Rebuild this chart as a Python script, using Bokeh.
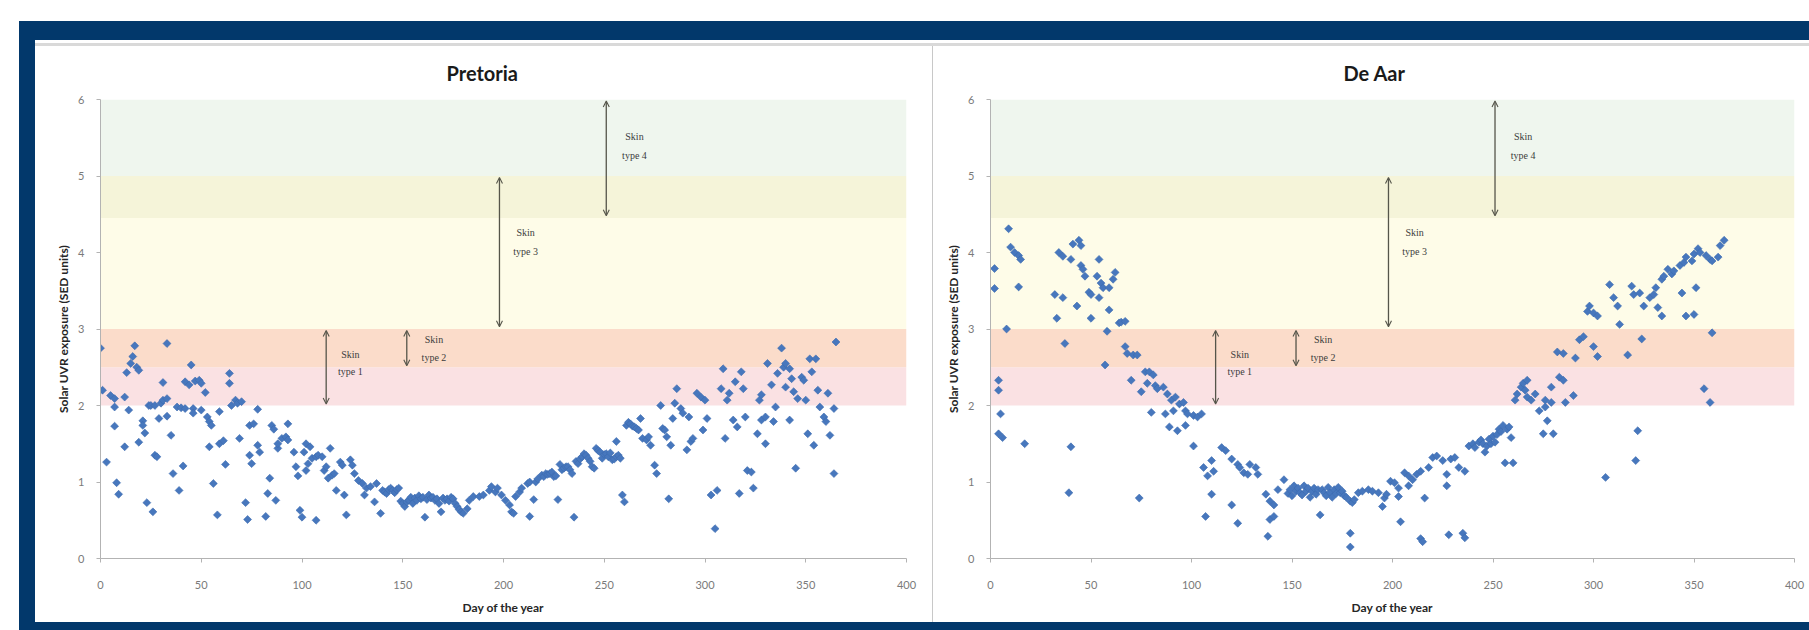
import numpy as np
from bokeh.plotting import figure
from bokeh.models import Arrow, OpenHead, Title, Spacer, Row, Column, FixedTicker
from bokeh.core.properties import value
from bokeh.embed import file_html
from bokeh.resources import INLINE

# ---------------- data ----------------
pretoria_day = [
    0, 1, 3, 5, 7, 7, 7, 8, 9, 12,
    12, 13, 14, 15, 16, 17, 18, 19, 19, 21,
    21, 22, 23, 24, 25, 26, 27, 27, 28, 29,
    30, 31, 31, 33, 33, 33, 35, 36, 38, 39,
    40, 41, 42, 42, 44, 45, 46, 46, 47, 49,
    50, 50, 52, 53, 54, 54, 55, 56, 58, 59,
    59, 61, 62, 64, 64, 65, 67, 68, 69, 70,
    72, 73, 74, 74, 75, 76, 78, 78, 79, 82,
    83, 84, 85, 86, 87, 88, 88, 90, 92, 93,
    93, 96, 97, 98, 99, 100, 101, 102, 102, 103,
    104, 105, 107, 107, 108, 110, 111, 112, 113, 114,
    115, 116, 117, 119, 120, 121, 122, 124, 125, 126,
    128, 130, 131, 132, 134, 136, 137, 139, 140, 141,
    142, 143, 144, 145, 146, 147, 148, 149, 150, 151,
    152, 153, 154, 155, 156, 157, 158, 159, 160, 161,
    162, 163, 164, 165, 166, 167, 168, 169, 170, 171,
    172, 173, 174, 175, 176, 177, 178, 179, 180, 182,
    183, 185, 188, 190, 193, 194, 196, 197, 199, 201,
    203, 204, 205, 206, 208, 209, 212, 213, 213, 215,
    216, 217, 219, 220, 221, 222, 223, 224, 225, 226,
    227, 228, 229, 230, 231, 232, 233, 234, 235, 236,
    237, 238, 239, 240, 241, 242, 243, 244, 245, 246,
    247, 248, 249, 250, 251, 252, 253, 254, 255, 256,
    256, 257, 258, 259, 260, 261, 262, 263, 264, 265,
    266, 267, 268, 269, 271, 272, 273, 275, 276, 278,
    279, 280, 281, 282, 283, 284, 285, 286, 288, 289,
    291, 292, 293, 294, 296, 298, 299, 300, 301, 303,
    305, 306, 308, 309, 310, 311, 312, 314, 315, 316,
    317, 318, 319, 320, 321, 323, 324, 326, 327, 328,
    328, 330, 330, 331, 333, 334, 335, 336, 338, 339,
    340, 340, 342, 342, 343, 344, 345, 346, 348, 349,
    350, 351, 352, 353, 354, 355, 356, 357, 359, 360,
    361, 362, 364, 364, 365,
]
pretoria_sed = [
    2.75, 2.2, 1.26, 2.13, 2.09, 1.98, 1.73, 0.99, 0.84, 1.46,
    2.11, 2.43, 1.94, 2.55, 2.64, 2.78, 2.5, 2.46, 1.52, 1.8,
    1.74, 1.64, 0.73, 2.0, 2.0, 0.61, 2.0, 1.35, 1.33, 1.83,
    2.03, 2.07, 2.3, 2.09, 2.81, 1.86, 1.61, 1.11, 1.98, 0.89,
    1.97, 1.21, 1.96, 2.31, 2.27, 2.53, 1.96, 1.9, 2.32, 2.33,
    2.29, 1.94, 2.17, 1.85, 1.79, 1.46, 1.74, 0.98, 0.57, 1.92,
    1.5, 1.54, 1.23, 2.29, 2.42, 2.0, 2.07, 2.03, 1.57, 2.05,
    0.73, 0.51, 1.35, 1.74, 1.24, 1.76, 1.95, 1.48, 1.39, 0.55,
    0.85, 1.05, 1.74, 1.69, 0.76, 1.44, 1.5, 1.57, 1.59, 1.76,
    1.55, 1.39, 1.2, 1.08, 0.63, 0.54, 1.39, 1.5, 1.15, 1.24,
    1.46, 1.31, 1.33, 0.5, 1.35, 1.33, 1.15, 1.2, 1.05, 1.44,
    1.09, 1.11, 0.89, 1.26, 1.22, 0.83, 0.57, 1.29, 1.22, 1.11,
    1.02, 0.98, 0.83, 0.92, 0.94, 0.74, 0.98, 0.59, 0.89, 0.87,
    0.85, 0.9, 0.92, 0.89, 0.86, 0.9, 0.92, 0.75, 0.72, 0.68,
    0.74, 0.76, 0.8, 0.72, 0.79, 0.76, 0.82, 0.78, 0.8, 0.54,
    0.77, 0.83, 0.79, 0.8, 0.76, 0.78, 0.72, 0.61, 0.79, 0.76,
    0.78, 0.75, 0.8, 0.78, 0.72, 0.68, 0.64, 0.61, 0.59, 0.65,
    0.76, 0.81, 0.81, 0.83, 0.89, 0.94, 0.87, 0.92, 0.83, 0.76,
    0.7, 0.61, 0.59, 0.81, 0.87, 0.92, 0.98, 1.0, 0.55, 0.77,
    1.0, 1.04, 1.09, 1.07, 1.11, 1.1, 1.11, 1.13, 1.07, 1.08,
    0.77, 1.23, 1.16, 1.18, 1.2, 1.2, 1.16, 1.11, 0.54, 1.27,
    1.24, 1.3, 1.33, 1.37, 1.35, 1.31, 1.27, 1.2, 1.18, 1.44,
    1.41, 1.39, 1.31, 1.36, 1.37, 1.33, 1.38, 1.29, 1.3, 1.33,
    1.53, 1.35, 1.31, 0.83, 0.74, 1.74, 1.78, 1.76, 1.73, 1.72,
    1.7, 1.68, 1.83, 1.57, 1.55, 1.59, 1.48, 1.22, 1.11, 2.0,
    1.7, 1.68, 1.59, 0.78, 1.48, 1.83, 2.03, 2.22, 1.96, 1.9,
    1.42, 1.85, 1.53, 1.57, 2.16, 2.11, 1.68, 2.07, 1.83, 0.83,
    0.39, 0.89, 2.22, 2.48, 1.57, 2.07, 2.16, 1.81, 2.31, 1.72,
    0.85, 2.44, 2.22, 1.85, 1.15, 1.13, 0.92, 1.63, 2.07, 2.14,
    1.81, 1.85, 1.5, 2.55, 2.27, 1.79, 1.98, 2.42, 2.75, 2.5,
    2.55, 2.24, 2.48, 1.81, 2.35, 2.18, 1.18, 2.09, 2.37, 2.33,
    2.07, 1.63, 2.61, 2.44, 1.48, 2.61, 2.2, 1.98, 1.85, 1.79,
    2.16, 1.61, 1.96, 1.11, 2.83,
]

deaar_day = [
    2, 2, 4, 4, 4, 5, 6, 8, 9, 10,
    12, 14, 14, 15, 17, 32, 33, 34, 36, 36,
    37, 39, 40, 40, 41, 43, 44, 45, 45, 46,
    47, 49, 50, 50, 53, 54, 54, 55, 56, 57,
    58, 59, 59, 61, 62, 64, 65, 67, 67, 68,
    70, 71, 73, 74, 75, 77, 78, 79, 80, 81,
    82, 83, 86, 87, 88, 89, 90, 91, 92, 93,
    94, 96, 97, 97, 98, 101, 101, 103, 105, 106,
    107, 108, 110, 110, 111, 115, 117, 120, 120, 123,
    123, 124, 126, 128, 129, 132, 133, 137, 138, 139,
    139, 141, 141, 143, 146, 148, 149, 150, 151, 152,
    153, 154, 155, 156, 157, 158, 159, 160, 161, 162,
    163, 164, 165, 166, 167, 168, 169, 170, 171, 172,
    173, 174, 175, 176, 177, 179, 179, 179, 180, 181,
    183, 185, 188, 190, 193, 195, 196, 197, 199, 201,
    203, 203, 204, 206, 208, 208, 210, 212, 214, 214,
    215, 216, 218, 220, 222, 225, 227, 227, 228, 229,
    231, 233, 235, 236, 236, 238, 240, 241, 243, 244,
    245, 246, 247, 248, 249, 250, 251, 252, 253, 254,
    255, 256, 257, 258, 259, 260, 261, 262, 264, 265,
    266, 267, 267, 269, 271, 273, 275, 276, 276, 277,
    279, 279, 280, 282, 283, 285, 285, 286, 290, 291,
    293, 295, 297, 298, 300, 300, 302, 302, 306, 308,
    310, 312, 313, 317, 319, 320, 321, 322, 323, 324,
    325, 328, 330, 331, 332, 334, 334, 335, 337, 339,
    340, 343, 344, 345, 346, 346, 349, 350, 350, 351,
    352, 353, 355, 356, 358, 358, 359, 359, 362, 363,
    365,
]
deaar_sed = [
    3.79, 3.53, 2.33, 2.2, 1.63, 1.89, 1.58, 3.0, 4.31, 4.07,
    4.0, 3.96, 3.55, 3.91, 1.5, 3.45, 3.14, 4.0, 3.95, 3.41,
    2.81, 0.86, 1.46, 3.91, 4.11, 3.3, 4.16, 4.09, 3.83, 3.78,
    3.69, 3.48, 3.45, 3.14, 3.69, 3.91, 3.41, 3.6, 3.54, 2.53,
    2.97, 3.25, 3.54, 3.65, 3.74, 3.08, 3.09, 3.1, 2.77, 2.68,
    2.33, 2.66, 2.66, 0.79, 2.18, 2.44, 2.29, 2.44, 1.91, 2.4,
    2.26, 2.22, 2.24, 1.89, 2.15, 1.72, 2.07, 1.93, 2.11, 1.67,
    2.02, 2.04, 1.93, 1.74, 1.89, 1.87, 1.47, 1.85, 1.89, 1.19,
    0.55, 1.08, 1.28, 0.84, 1.14, 1.45, 1.41, 0.7, 1.3, 1.23,
    0.46, 1.19, 1.12, 1.1, 1.23, 1.19, 1.1, 0.84, 0.29, 0.75,
    0.51, 0.7, 0.55, 0.9, 1.03, 0.85, 0.9, 0.82, 0.95, 0.88,
    0.92, 0.86, 0.83, 0.95, 0.88, 0.92, 0.8, 0.88, 0.92, 0.84,
    0.9, 0.57, 0.9, 0.86, 0.82, 0.93, 0.86, 0.8, 0.9, 0.85,
    0.93, 0.86, 0.88, 0.82, 0.8, 0.75, 0.33, 0.15, 0.73, 0.77,
    0.86, 0.88, 0.9, 0.88, 0.86, 0.68, 0.79, 0.84, 1.01, 0.99,
    0.92, 0.81, 0.48, 1.12, 1.08, 0.95, 1.03, 1.1, 1.14, 0.26,
    0.22, 0.79, 1.19, 1.32, 1.34, 1.28, 1.1, 0.95, 0.31, 1.3,
    1.32, 1.19, 0.33, 0.27, 1.14, 1.47, 1.5, 1.45, 1.52, 1.55,
    1.5, 1.39, 1.47, 1.56, 1.5, 1.6, 1.52, 1.62, 1.69, 1.66,
    1.74, 1.25, 1.69, 1.72, 1.58, 1.25, 2.07, 2.15, 2.24, 2.29,
    2.2, 2.11, 2.33, 2.07, 2.15, 1.93, 1.63, 1.98, 2.07, 1.8,
    2.04, 2.24, 1.63, 2.7, 2.37, 2.33, 2.68, 2.04, 2.13, 2.62,
    2.86, 2.9, 3.23, 3.3, 3.21, 2.77, 3.17, 2.64, 1.06, 3.58,
    3.41, 3.3, 3.06, 2.66, 3.56, 3.45, 1.28, 1.67, 3.47, 2.87,
    3.3, 3.41, 3.45, 3.54, 3.28, 3.65, 3.17, 3.69, 3.78, 3.72,
    3.76, 3.83, 3.47, 3.87, 3.94, 3.17, 3.89, 3.98, 3.19, 3.54,
    4.05, 4.0, 2.22, 3.96, 3.91, 2.04, 3.89, 2.95, 3.94, 4.09,
    4.16,
]

x_ticks = [0, 50, 100, 150, 200, 250, 300, 350, 400]
y_ticks = [0, 1, 2, 3, 4, 5, 6]

# skin-type exposure bands (SED)
band_low = [2.0, 2.5, 3.0, 4.45, 5.0]
band_high = [2.5, 3.0, 4.45, 5.0, 6.0]
band_colors = ["#FAE1E3", "#FBDCCA", "#FEFCE8", "#F5F4D9", "#EFF6EE"]

# double arrows marking each skin type's range
skin_types = ["1", "2", "3", "4"]
arrow_day = [112, 152, 198, 251]
arrow_low = [2.02, 2.52, 3.03, 4.48]
arrow_high = [2.98, 2.98, 4.98, 5.98]
label_day = [124, 165.5, 211, 265]
label_skin_y = [2.67, 2.86, 4.26, 5.51]
label_type_y = [2.44, 2.63, 4.01, 5.27]

# ---------------- styling ----------------
NAVY = "#02386B"
FONT = "Lato"
ARROW = "#55554A"
MARK_FILL = "#4777BD"
MARK_LINE = "#3B6AAE"


def make_panel(title, days, sed, width, b_left, b_right, title_offset):
    p = figure(width=width, height=576, x_range=(0, 400), y_range=(0, 6),
               output_backend="svg", toolbar_location=None,
               min_border_left=b_left, min_border_right=b_right,
               min_border_top=53, min_border_bottom=64,
               outline_line_color=None, background_fill_color="white",
               border_fill_color="white")
    p.grid.visible = False

    p.quad(left=0, right=400, bottom=band_low, top=band_high,
           fill_color=band_colors, line_color=None)

    p.scatter(days, sed, marker="square", angle=np.pi / 4, size=5.6,
              fill_color=MARK_FILL, line_color=MARK_LINE, line_width=0.6)

    for d, lo, hi in zip(arrow_day, arrow_low, arrow_high):
        p.add_layout(Arrow(x_start=d, y_start=lo, x_end=d, y_end=hi,
                           start=OpenHead(size=6, line_color=ARROW, line_width=1.1),
                           end=OpenHead(size=6, line_color=ARROW, line_width=1.1),
                           line_color=ARROW, line_width=1.3))

    p.text(x=label_day + label_day, y=label_skin_y + label_type_y,
           text=["Skin"] * len(skin_types) + ["type " + s for s in skin_types],
           text_align="center", text_baseline="middle",
           text_font=value("Liberation Serif"), text_font_size="10px",
           text_color="#3C3C3C")

    p.xaxis.ticker = FixedTicker(ticks=x_ticks)
    p.yaxis.ticker = FixedTicker(ticks=y_ticks)
    p.xaxis.axis_label = "Day of the year"
    p.yaxis.axis_label = "Solar UVR exposure (SED units)"
    for ax in (p.xaxis[0], p.yaxis[0]):
        ax.axis_line_color = "#B3B3B3"
        ax.major_tick_line_color = "#B3B3B3"
        ax.major_tick_out = 4
        ax.major_tick_in = 0
        ax.minor_tick_line_color = None
        ax.major_label_text_font = FONT
        ax.major_label_text_font_size = "11px"
        ax.major_label_text_color = "#7A7A7A"
        ax.axis_label_text_font = FONT
        ax.axis_label_text_font_style = "bold"
        ax.axis_label_text_font_size = "12px"
        ax.axis_label_text_color = "#262626"
    p.xaxis.major_label_standoff = 18
    p.yaxis.major_label_standoff = 12
    p.xaxis.axis_label_standoff = 8
    p.yaxis.axis_label_standoff = 4

    p.add_layout(Title(text=title, align="left", offset=title_offset,
                       vertical_align="top", standoff=26,
                       text_font=FONT, text_font_size="20px",
                       text_font_style="bold", text_color="#1A1A1A"), "above")
    return p


p1 = make_panel("Pretoria", pretoria_day, pretoria_sed, 897, 65, 26, 346)
p2 = make_panel("De Aar", deaar_day, deaar_sed, 876, 57, 15, 353)

NAVY_S = {"background-color": NAVY}
WHITE_S = {"background-color": "#FFFFFF"}

divider = Spacer(width=1, height=576, styles={"background-color": "#C8C8C8"})
panels = Row(children=[p1, divider, p2], spacing=0)
inner = Column(children=[
    Spacer(width=1774, height=3, styles=WHITE_S),
    Spacer(width=1774, height=3, styles={"background-color": "#D9D9D9"}),
    panels,
], spacing=0)
framed = Column(children=[
    Spacer(width=1790, height=19, styles=NAVY_S),
    Row(children=[Spacer(width=16, height=582, styles=NAVY_S), inner], spacing=0),
    Spacer(width=1790, height=8, styles=NAVY_S),
], spacing=0)
page = Row(children=[
    Spacer(width=19, height=630, styles=WHITE_S),
    Column(children=[Spacer(width=1790, height=21, styles=WHITE_S), framed], spacing=0),
], spacing=0)

open("out.html", "w").write(file_html(page, INLINE))
